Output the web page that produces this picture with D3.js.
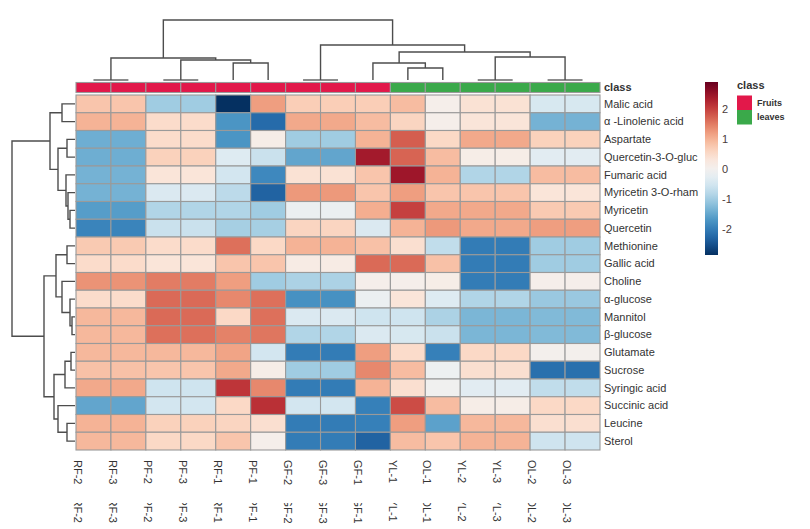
<!DOCTYPE html>
<meta charset="utf-8">
<style>
body { margin: 0; background: #fff; }
svg text { font-family: "Liberation Sans", Arial, sans-serif; fill: #333; }
.cell { stroke: #9a9a9a; stroke-width: 1.1; }
.dendro { fill: none; stroke: #4d4d4d; stroke-width: 1.4; }
.dendro.flat { stroke: #8c8c8c; stroke-width: 2; }
</style>
<body>
<script src="https://cdn.jsdelivr.net/npm/d3@7"></script>
<script>

// samples (columns) in display order
var columns = ["RF-2", "RF-3", "PF-2", "PF-3", "RF-1", "PF-1", "GF-2", "GF-3", "GF-1",
               "YL-1", "OL-1", "YL-2", "YL-3", "OL-2", "OL-3"];
var colClass = ["Fruits", "Fruits", "Fruits", "Fruits", "Fruits", "Fruits", "Fruits", "Fruits", "Fruits",
                "leaves", "leaves", "leaves", "leaves", "leaves", "leaves"];
var classNames = ["Fruits", "leaves"];

// metabolites (rows) in display order
var rowNames = ["Malic acid", "\u03b1 -Linolenic acid", "Aspartate", "Quercetin-3-O-gluc", "Fumaric acid",
                "Myricetin 3-O-rham", "Myricetin", "Quercetin", "Methionine", "Gallic acid",
                "Choline", "\u03b1-glucose", "Mannitol", "\u03b2-glucose", "Glutamate",
                "Sucrose", "Syringic acid", "Succinic acid", "Leucine", "Sterol"];

// scaled values, one row per metabolite, columns as above
var values = [
  [ 0.8,  0.8, -1.0, -1.0, -2.85, 1.2,  0.7,  0.7,  0.7,  0.9,  0.1,  0.4,  0.4, -0.45, -0.45],
  [ 1.0,  1.0,  0.5,  0.5, -1.7, -2.2,  1.1,  1.1,  0.9,  0.6,  0.1,  0.35, 0.35, -1.35, -1.35],
  [-1.4, -1.4,  0.5,  0.5, -1.7,  0.15,-1.0, -1.0,  1.0,  1.75, 0.55, 1.1,  1.1,  0.65,  0.65],
  [-1.4, -1.4,  0.65, 0.65,-0.35,-0.6, -1.5, -1.5,  2.4,  1.7,  0.9,  0.15, 0.15,-0.3,  -0.3],
  [-1.35,-1.35, 0.35, 0.35,-0.5, -1.85, 0.4,  0.4,  0.8,  2.45, 1.0, -0.85,-0.85, 0.9,   0.9],
  [-1.35,-1.35,-0.4, -0.4, -0.75,-2.3,  1.25, 1.25, 0.8,  1.2,  0.8,  0.8,  0.8,  0.35,  0.35],
  [-1.6, -1.6, -0.85,-0.85,-0.85,-1.0, -0.15,-0.15, 1.05, 2.0,  1.1,  1.1,  1.1,  0.75,  0.75],
  [-1.9, -1.9, -0.6, -0.6, -0.95,-0.95, 0.6,  0.6, -0.4,  1.0,  1.25, 1.1,  1.1,  1.2,   1.2],
  [ 0.75, 0.75, 0.5,  0.5,  1.6,  0.55, 1.0,  1.0,  0.85, 0.45,-0.7, -2.0, -2.0, -1.0,  -1.0],
  [ 0.5,  0.5,  0.35, 0.35, 0.8,  0.8,  0.2,  0.2,  1.65, 1.65, 0.85,-2.0, -2.0, -1.0,  -1.0],
  [ 1.3,  1.3,  1.5,  1.5,  1.2, -1.0, -0.9, -0.9,  0.1,  0.1,  0.15,-2.0, -2.0,  0.1,   0.1],
  [ 0.5,  0.5,  1.65, 1.65, 1.4,  1.6, -1.75,-1.75,-0.15, 0.35,-0.35,-0.85,-0.85,-1.05, -1.05],
  [ 0.95, 0.95, 1.65, 1.65, 0.55, 1.6, -0.4, -0.4, -0.55,-0.55,-0.9, -1.3, -1.3, -1.25, -1.25],
  [ 0.95, 0.95, 1.6,  1.6,  1.45, 1.55,-0.85,-0.85,-0.4, -0.45,-0.6, -1.3, -1.3, -1.25, -1.25],
  [ 0.95, 0.95, 0.95, 0.95, 1.15,-0.5, -2.0, -2.0,  1.2,  0.5, -1.95, 0.55, 0.55, 0.05,  0.05],
  [ 0.85, 0.85, 0.8,  0.8,  1.1,  0.15,-1.0, -1.0,  1.4,  0.9, -0.1,  0.45, 0.45,-2.15, -2.15],
  [ 1.1,  1.1, -0.55,-0.55, 2.1,  1.4, -2.0, -2.0,  1.0,  0.45,-0.05,-0.3, -0.3, -0.7,  -0.7],
  [-1.5, -1.5, -0.5, -0.5,  0.55, 2.15,-0.5, -0.5, -1.95, 1.9,  0.9,  0.15, 0.15, 0.55,  0.55],
  [ 1.0,  1.0,  0.65, 0.65, 0.6,  0.45,-2.0, -2.0, -1.95, 1.2, -1.55, 0.95, 0.95, 0.45,  0.45],
  [ 0.95, 0.95, 0.55, 0.55, 0.8,  0.1, -2.0, -2.0, -2.3,  0.9,  0.8,  1.0,  1.0, -0.55, -0.55]
];

// hclust style merges: negative = leaf (1-based, display order), positive = earlier step
var colMerge = [[-1,-2], [-3,-4], [-7,-8], [-12,-13], [-14,-15], [-10,-11], [-5,-6],
                [-9,6], [2,7], [1,9], [4,5], [8,11], [3,12], [10,13]];
var colHeight = [0, 0, 0, 0, 0, 12, 17, 17, 20, 22, 23, 28, 35, 60];

var rowMerge = [[-13,-14], [-15,-16], [-7,-8], [-12,1], [-6,3], [-3,-4], [-9,-10], [-19,-20],
                [-5,5], [2,-17], [-1,-2], [-11,4], [6,9], [-18,8], [7,12], [10,14], [11,13],
                [15,16], [17,18]];
var rowHeight = [3, 4, 5, 5, 7, 8, 8, 8, 9, 10, 13, 13, 17, 17, 19, 21, 25, 31, 63];

var colorTicks = [2, 1, 0, -1, -2];
var colorRange = [-2.85, 2.9];

var width = 810, height = 529;

var svg = d3.select("body").append("svg")
    .attr("width", width)
    .attr("height", height);

var x = d3.scaleBand().domain(columns).range([76, 600]);
var y = d3.scaleBand().domain(rowNames).range([95, 450]);

var color = d3.scaleDiverging()
    .domain([colorRange[1], 0, colorRange[0]])
    .interpolator(d3.interpolateRdBu);

var classColor = d3.scaleOrdinal().domain(classNames).range(["#e2184a", "#3aa94a"]);

// heatmap cells
var cells = [];
values.forEach(function(row, i) {
  row.forEach(function(v, j) {
    cells.push({r: rowNames[i], c: columns[j], v: v});
  });
});

svg.append("g").selectAll("rect")
  .data(cells)
  .enter().append("rect")
    .attr("class", "cell")
    .attr("x", function(d) { return x(d.c); })
    .attr("y", function(d) { return y(d.r); })
    .attr("width", x.bandwidth())
    .attr("height", y.bandwidth())
    .attr("fill", function(d) { return color(d.v); });

// class annotation bar
svg.append("g").selectAll("rect")
  .data(columns)
  .enter().append("rect")
    .attr("class", "cell")
    .attr("x", function(d) { return x(d); })
    .attr("y", 82.5)
    .attr("width", x.bandwidth())
    .attr("height", 10)
    .attr("fill", function(d, i) { return classColor(colClass[i]); });

svg.append("text")
    .attr("x", 604).attr("y", 87.5)
    .attr("dy", "0.35em")
    .style("font-size", "11px").style("font-weight", "bold")
    .text("class");

// row labels
svg.append("g").selectAll("text")
  .data(rowNames)
  .enter().append("text")
    .attr("x", 604)
    .attr("y", function(d) { return y(d) + y.bandwidth() / 2; })
    .attr("dy", "0.35em")
    .style("font-size", "11px")
    .text(function(d) { return d; });

// column labels (plus the clipped copy underneath, as in the picture)
svg.append("clipPath").attr("id", "cut")
  .append("rect").attr("x", 0).attr("y", 503).attr("width", width).attr("height", 30);

[460, 498.5].forEach(function(top, k) {
  var g = svg.append("g");
  if (k == 1) g.attr("clip-path", "url(#cut)");
  g.selectAll("text")
    .data(columns)
    .enter().append("text")
      .attr("transform", function(d) { return "translate(" + (x(d) + 2) + "," + top + ") rotate(90)"; })
      .attr("dy", "0.35em")
      .style("font-size", "11px")
      .text(function(d) { return d; });
});

// dendrograms
function drawTree(merge, heights, leafPos, hScale, vertical) {
  var pos = [];
  function p(id) { return id < 0 ? leafPos[-id - 1] : pos[id - 1]; }
  function h(id) { return id < 0 ? 0 : heights[id - 1]; }
  var g = svg.append("g");
  merge.forEach(function(m, k) {
    var a = m[0], b = m[1], hh = heights[k];
    pos.push((p(a) + p(b)) / 2);
    var d;
    if (vertical) {
      d = "M" + p(a) + "," + hScale(h(a)) + "V" + hScale(hh) + "H" + p(b) + "V" + hScale(h(b));
    } else {
      d = "M" + hScale(h(a)) + "," + p(a) + "H" + hScale(hh) + "V" + p(b) + "H" + hScale(h(b));
    }
    g.append("path")
      .attr("class", hh == 0 ? "dendro flat" : "dendro")
      .attr("d", d);
  });
}

var colLeaves = columns.map(function(c) { return x(c) + x.bandwidth() / 2; });
var rowLeaves = rowNames.map(function(r) { return y(r) + y.bandwidth() / 2; });

drawTree(colMerge, colHeight, colLeaves, d3.scaleLinear().domain([0, 60]).range([80, 20]), true);
drawTree(rowMerge, rowHeight, rowLeaves, d3.scaleLinear().domain([0, 63]).range([75, 12]), false);

// colour key
var key = d3.scaleLinear().domain(colorRange).range([255, 82]);
var grad = svg.append("defs").append("linearGradient")
    .attr("id", "keygrad")
    .attr("x1", 0).attr("y1", 1).attr("x2", 0).attr("y2", 0);
d3.range(0, 1.001, 0.05).forEach(function(t) {
  grad.append("stop")
    .attr("offset", t)
    .attr("stop-color", color(colorRange[0] + t * (colorRange[1] - colorRange[0])));
});
svg.append("rect")
    .attr("x", 705).attr("y", key(colorRange[1]))
    .attr("width", 13).attr("height", key(colorRange[0]) - key(colorRange[1]))
    .attr("fill", "url(#keygrad)");

svg.append("g").selectAll("text")
  .data(colorTicks)
  .enter().append("text")
    .attr("x", 722)
    .attr("y", function(d) { return key(d); })
    .attr("dy", "0.35em")
    .style("font-size", "11px")
    .style("fill", "#4a3a3a")
    .text(function(d) { return d; });

// class legend
svg.append("text")
    .attr("x", 737).attr("y", 85)
    .attr("dy", "0.35em")
    .style("font-size", "11px").style("font-weight", "bold")
    .text("class");

var lg = svg.append("g").selectAll("g")
  .data(classNames)
  .enter().append("g")
    .attr("transform", function(d, i) { return "translate(737," + (95.5 + i * 14.5) + ")"; });
lg.append("rect")
    .attr("width", 15).attr("height", 14.5)
    .attr("fill", function(d) { return classColor(d); });
lg.append("text")
    .attr("x", 20).attr("y", 7)
    .attr("dy", "0.35em")
    .style("font-size", "9px").style("font-weight", "bold")
    .text(function(d) { return d; });

</script>
</body>
